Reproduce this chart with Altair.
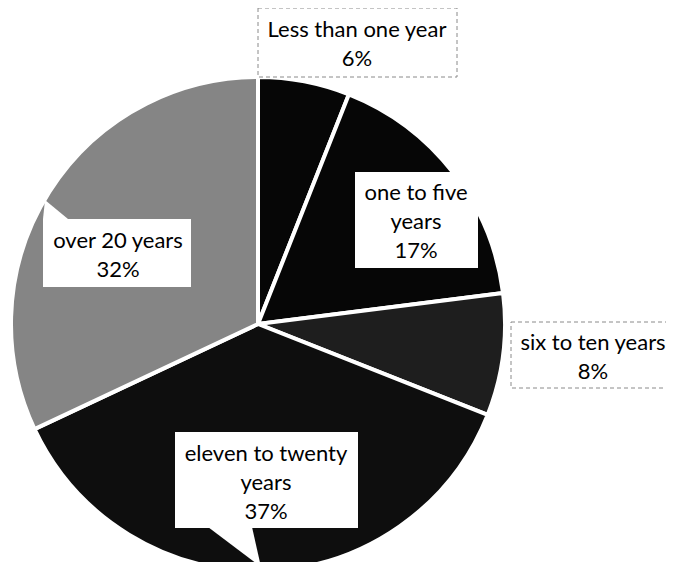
import altair as alt
import pandas as pd

# ---- data ----
categories = ["Less than one year", "one to five years", "six to ten years",
              "eleven to twenty years", "over 20 years"]
percents = [6, 17, 8, 37, 32]
label_names = [["Less than one year"], ["one to five", "years"], ["six to ten years"],
               ["eleven to twenty", "years"], ["over 20 years"]]

# ---- styles / layout ----
slice_colors = ["#060606", "#060606", "#1e1e1e", "#0e0e0e", "#858585"]
W, H = 658, 554
OFF = 8
CX, CY, R = 258 - OFF, 324 - OFF, 247
box_px = [(258, 457, 8, 77), (355, 478, 172, 268), (511, 680, 322, 388),
          (175, 358, 432, 528), (43, 191, 219, 287)]
box_outside = [1, 0, 1, 0, 0]
# centre x, first line y
text_px = [(357, 30), (416, 193), (593, 343), (266, 454), (118, 241)]

pie = pd.DataFrame({"category": categories, "value": percents,
                    "order": list(range(len(categories)))})

labels = pd.DataFrame({
    "text": ["\n".join(n + [f"{p}%"]) for n, p in zip(label_names, percents)],
    "tx": [t[0] - OFF for t in text_px],
    "ty": [t[1] - OFF for t in text_px],
    "x0": [b[0] - OFF for b in box_px],
    "x1": [b[1] - OFF for b in box_px],
    "y0": [b[2] - OFF for b in box_px],
    "y1": [b[3] - OFF for b in box_px],
    "outside": box_outside,
})

ptr_a = pd.DataFrame({"x": [43 - OFF, 45 - OFF, 68 - OFF],
                      "y": [219 - OFF, 200 - OFF, 219 - OFF],
                      "y2": [219 - OFF, 219 - OFF, 219 - OFF]})
ptr_b = pd.DataFrame({"y": [527 - OFF, 567 - OFF],
                      "x": [208 - OFF, 261 - OFF],
                      "x2": [252 - OFF, 261 - OFF]})

xs = alt.Scale(domain=[0, W], nice=False, zero=False)
ys = alt.Scale(domain=[0, H], nice=False, zero=False, reverse=True)

arc = alt.Chart(pie).mark_arc(radius=R, stroke="white", strokeWidth=4).encode(
    theta=alt.Theta("value:Q", stack=True),
    color=alt.Color("category:N", scale=alt.Scale(domain=categories, range=slice_colors),
                    legend=None),
    order=alt.Order("order:Q"),
    x=alt.value(CX),
    y=alt.value(CY),
)

boxes = alt.Chart(labels).mark_rect(fill="white", stroke="#8a8a8a", strokeWidth=1,
                                    strokeDash=[4, 3]).encode(
    x=alt.X("x0:Q", scale=xs, axis=None),
    x2="x1:Q",
    y=alt.Y("y0:Q", scale=ys, axis=None),
    y2="y1:Q",
    strokeOpacity=alt.StrokeOpacity("outside:Q", scale=None, legend=None),
)

pa = alt.Chart(ptr_a).mark_area(color="white", orient="vertical").encode(
    x=alt.X("x:Q", scale=xs, axis=None),
    y=alt.Y("y:Q", scale=ys, axis=None),
    y2="y2:Q",
)

pb = alt.Chart(ptr_b).mark_area(color="white", orient="horizontal").encode(
    y=alt.Y("y:Q", scale=ys, axis=None),
    x=alt.X("x:Q", scale=xs, axis=None),
    x2="x2:Q",
)

texts = alt.Chart(labels).mark_text(font="Lato", fontSize=22, lineBreak="\n",
                                    lineHeight=29, align="center", baseline="middle",
                                    color="#000000").encode(
    x=alt.X("tx:Q", scale=xs, axis=None),
    y=alt.Y("ty:Q", scale=ys, axis=None),
    text="text:N",
)

chart = alt.layer(arc, boxes, pa, pb, texts).properties(
    width=W, height=H, padding=0,
    autosize=alt.AutoSizeParams(type="none"),
).configure_view(stroke=None)

chart.save("out.html", embed_options={"renderer": "svg", "actions": False})
